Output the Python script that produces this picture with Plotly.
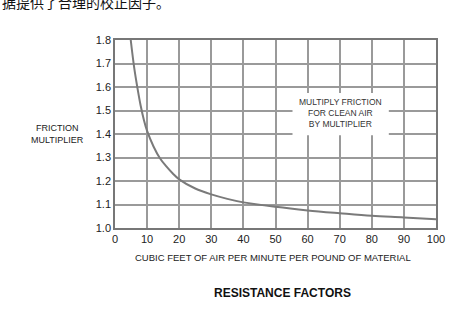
import plotly.graph_objects as go

# Data
cfm = [4.9, 6, 7, 8, 9, 10, 12, 14, 16, 18, 20, 25, 30, 35, 40, 50, 60, 70, 80, 90, 100]
multiplier = [1.8, 1.68, 1.595, 1.52, 1.46, 1.413, 1.347, 1.297, 1.262, 1.232, 1.207, 1.168, 1.143,
              1.124, 1.109, 1.09, 1.075, 1.063, 1.052, 1.045, 1.037]
x_ticks = [0, 10, 20, 30, 40, 50, 60, 70, 80, 90, 100]
y_ticks = [1.0, 1.1, 1.2, 1.3, 1.4, 1.5, 1.6, 1.7, 1.8]

FONT = "Liberation Sans, Arial, sans-serif"

# plot area in pixels
L, R, T, B = 115, 436, 40, 228


def px(xp):
    return (xp - L) / (R - L)


def py(yp):
    return (B - yp) / (B - T)


fig = go.Figure()
fig.add_trace(go.Scatter(
    x=cfm, y=multiplier, mode="lines",
    line=dict(color="#7a7a7a", width=2, shape="spline", smoothing=1.0),
    hoverinfo="skip", showlegend=False,
))

# white box behind the note, covering the grid
fig.add_shape(type="rect", xref="x", yref="y", x0=55.3, x1=85.3, y0=1.395, y1=1.575,
              fillcolor="white", line=dict(width=0), layer="between")
fig.add_annotation(x=70.3, y=1.49, xref="x", yref="y", xanchor="center", yanchor="middle",
                   text="MULTIPLY FRICTION<br>FOR CLEAN AIR<br>BY MULTIPLIER",
                   showarrow=False, font=dict(family=FONT, size=8.5, color="#333"),
                   align="center")

fig.add_annotation(x=px(57), y=py(134), xref="paper", yref="paper",
                   xanchor="center", yanchor="middle",
                   text="FRICTION<br>MULTIPLIER", showarrow=False, align="center",
                   font=dict(family=FONT, size=9, color="#222"))
fig.add_annotation(x=px(273), y=py(257), xref="paper", yref="paper",
                   xanchor="center", yanchor="middle",
                   text="CUBIC FEET OF AIR PER MINUTE PER POUND OF MATERIAL",
                   showarrow=False, font=dict(family=FONT, size=9.5, color="#222"))
fig.add_annotation(x=px(282), y=py(293), xref="paper", yref="paper",
                   xanchor="center", yanchor="middle",
                   text="<b>RESISTANCE FACTORS</b>",
                   showarrow=False, font=dict(family=FONT, size=12, color="#111"))
fig.add_annotation(x=px(0), y=py(2.5), xref="paper", yref="paper", xanchor="left",
                   yanchor="middle",
                   text="据提供了合理的校正因子。", showarrow=False,
                   font=dict(family="Noto Sans CJK SC", size=14, color="#111"))

fig.update_layout(
    width=463, height=317,
    margin=dict(l=L, r=463 - R, t=T, b=317 - B),
    paper_bgcolor="white", plot_bgcolor="white",
    font=dict(family=FONT, size=11, color="#222"),
    xaxis=dict(range=[0, 100], tickvals=x_ticks, ticktext=[str(v) for v in x_ticks],
               showgrid=True, gridcolor="#9a9a9a", gridwidth=1.5,
               showline=True, linecolor="#777", linewidth=1.5, mirror=True,
               zeroline=False, ticks="", tickfont=dict(size=11, color="#222")),
    yaxis=dict(range=[1.0, 1.8], tickvals=y_ticks, ticktext=[f"{v:.1f}" for v in y_ticks],
               showgrid=True, gridcolor="#9a9a9a", gridwidth=1.5,
               showline=True, linecolor="#777", linewidth=1.5, mirror=True,
               zeroline=False, ticks="", tickfont=dict(size=11, color="#222")),
)

fig.write_html("out.html")
